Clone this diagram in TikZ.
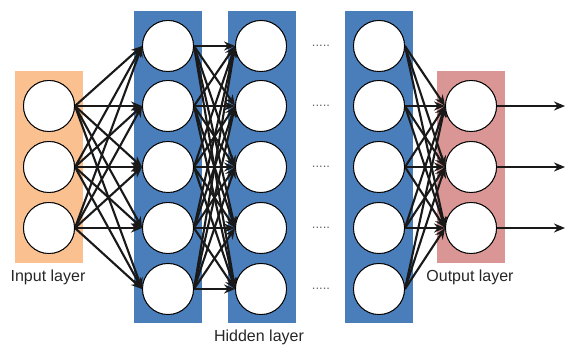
\documentclass[tikz,border=0pt]{standalone}
\usepackage{fontspec}
\setmainfont{Liberation Sans}
\usetikzlibrary{arrows.meta}
\definecolor{inorange}{HTML}{FAC090}
\definecolor{hidblue}{HTML}{4A7EBB}
\definecolor{outpink}{HTML}{D99694}
\begin{document}
\begin{tikzpicture}[x=1pt,y=-1pt,
  neuron/.style={circle,draw=black,line width=0.9pt,fill=white,minimum size=51pt,inner sep=0pt},
  conn/.style={line width=2.1pt,draw=black!90,-{Stealth[length=11pt,width=9pt]}},
  lbl/.style={font=\fontsize{16}{18}\selectfont,text=black!85},
  dotsl/.style={font=\fontsize{13}{13}\selectfont,text=black!60}]
\useasboundingbox (0,0) rectangle (565,347);
% layer backgrounds
\fill[inorange] (15,71) rectangle (83,263);
\fill[hidblue] (134,11) rectangle (202,323);
\fill[hidblue] (228,11) rectangle (296,323);
\fill[hidblue] (345,11) rectangle (413,323);
\fill[outpink] (437,71) rectangle (505,263);
% nodes
\foreach \i/\y in {1/106,2/167,3/228} {
  \node[neuron] (in\i) at (49,\y) {};
  \node[neuron] (out\i) at (471,\y) {};
  \coordinate (end\i) at (565,\y);
}
\foreach \i/\y in {1/46,2/106,3/167,4/228,5/289} {
  \node[neuron] (ha\i) at (168,\y) {};
  \node[neuron] (hb\i) at (261,\y) {};
  \node[neuron] (hc\i) at (379,\y) {};
  \node[dotsl] (dt\i) at (321,\y) {.....};
}
% connections
\foreach \i in {1,2,3} \foreach \j in {1,...,5} \draw[conn] (in\i.east) -- (ha\j.west);
\foreach \i in {1,...,5} \foreach \j in {1,...,5} \draw[conn] (ha\i.east) -- (hb\j.west);
\foreach \i in {1,...,5} \foreach \j in {1,2,3} \draw[conn] (hc\i.east) -- (out\j.west);
\foreach \i in {1,2,3} \draw[conn] (out\i.east) -- (end\i);
% redraw circles on top
\foreach \i in {1,2,3} {\node[neuron] at (in\i) {}; \node[neuron] at (out\i) {};}
\foreach \i in {1,...,5} {\node[neuron] at (ha\i) {}; \node[neuron] at (hb\i) {}; \node[neuron] at (hc\i) {};}
% labels
\node[lbl] (linput) at (48,277) {Input layer};
\node[lbl] (lhidden) at (259,337) {Hidden layer};
\node[lbl] (loutput) at (470,277) {Output layer};
\end{tikzpicture}
\end{document}
